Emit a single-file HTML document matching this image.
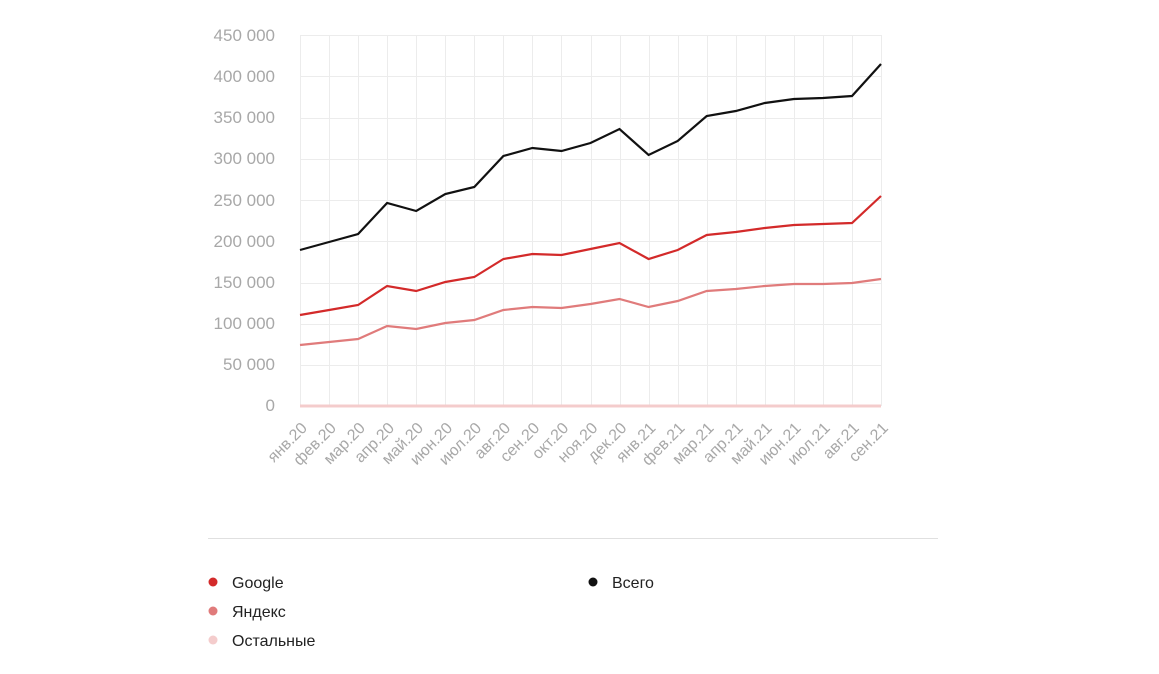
<!DOCTYPE html>
<html><head><meta charset="utf-8"><style>
body{margin:0;background:#fff;font-family:"Liberation Sans",sans-serif;}
</style></head><body>
<svg width="1159" height="674" xmlns="http://www.w3.org/2000/svg" style="display:block">
<g stroke="#ececec" stroke-width="1">
<line x1="300" x2="881" y1="35.5" y2="35.5"/><line x1="300" x2="881" y1="76.5" y2="76.5"/><line x1="300" x2="881" y1="118.5" y2="118.5"/><line x1="300" x2="881" y1="159.5" y2="159.5"/><line x1="300" x2="881" y1="200.5" y2="200.5"/><line x1="300" x2="881" y1="241.5" y2="241.5"/><line x1="300" x2="881" y1="283.5" y2="283.5"/><line x1="300" x2="881" y1="324.5" y2="324.5"/><line x1="300" x2="881" y1="365.5" y2="365.5"/>
</g>
<g stroke="#ececec" stroke-width="1" id="vg"></g>
<g font-size="17" fill="#a8a8a8" text-anchor="end">
<text x="275" y="41">450 000</text><text x="275" y="82">400 000</text><text x="275" y="123">350 000</text><text x="275" y="164">300 000</text><text x="275" y="206">250 000</text><text x="275" y="247">200 000</text><text x="275" y="288">150 000</text><text x="275" y="329">100 000</text><text x="275" y="370">50 000</text><text x="275" y="411">0</text>
</g>
<g id="xl" font-size="16" fill="#a8a8a8" text-anchor="end"></g>
<line x1="300" x2="881" y1="406" y2="406" stroke="#f4cccc" stroke-width="3"/>
<polyline id="y" fill="none" stroke="#e07b7b" stroke-width="2.2"/>
<polyline id="g" fill="none" stroke="#d32a2a" stroke-width="2.2"/>
<polyline id="t" fill="none" stroke="#111" stroke-width="2.2"/>
<line x1="208" x2="938" y1="538.5" y2="538.5" stroke="#e0e0e0"/>
<circle cx="213" cy="582" r="4.5" fill="#d32a2a"/><text x="232" y="588" font-size="16" fill="#222">Google</text>
<circle cx="213" cy="611" r="4.5" fill="#e07b7b"/><text x="232" y="617" font-size="16" fill="#222">Яндекс</text>
<circle cx="213" cy="640" r="4.5" fill="#f4cccc"/><text x="232" y="646" font-size="16" fill="#222">Остальные</text>
<circle cx="593" cy="582" r="4.5" fill="#111"/><text x="612" y="588" font-size="16" fill="#222">Всего</text>
</svg>
<script>
var T=[250,242,234,203,211,194,187,156,148,151,143,129,155,141,116,111,103,99,98,96,64];
var G=[315,310,305,286,291,282,277,259,254,255,249,243,259,250,235,232,228,225,224,223,196];
var Y=[345,342,339,326,329,323,320,310,307,308,304,299,307,301,291,289,286,284,284,283,279];
var L=["янв.20","фев.20","мар.20","апр.20","май.20","июн.20","июл.20","авг.20","сен.20","окт.20","ноя.20","дек.20","янв.21","фев.21","мар.21","апр.21","май.21","июн.21","июл.21","авг.21","сен.21"];
function X(i){return 300+i*29.05;}
function pts(a){return a.map(function(v,i){return X(i).toFixed(1)+","+v}).join(" ");}
document.getElementById("t").setAttribute("points",pts(T));
document.getElementById("g").setAttribute("points",pts(G));
document.getElementById("y").setAttribute("points",pts(Y));
var ns="http://www.w3.org/2000/svg",vg=document.getElementById("vg"),xl=document.getElementById("xl");
for(var i=0;i<21;i++){var l=document.createElementNS(ns,"line");var x=Math.round(X(i))+0.5;l.setAttribute("x1",x);l.setAttribute("x2",x);l.setAttribute("y1",35);l.setAttribute("y2",406);vg.appendChild(l);
var t=document.createElementNS(ns,"text");t.setAttribute("transform","translate("+(X(i)+8)+",429) rotate(-45)");t.textContent=L[i];xl.appendChild(t);}
</script>
</body></html>
